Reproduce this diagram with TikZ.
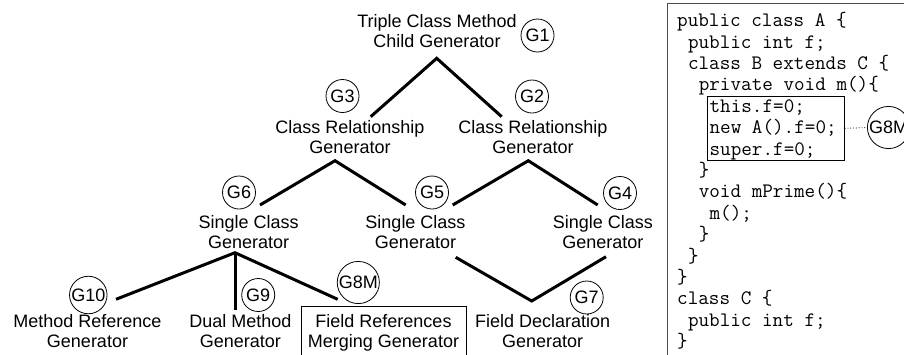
\documentclass[tikz,border=0pt]{standalone}
\usepackage{fontspec}
\setmainfont{Liberation Sans}
\setmonofont{Latin Modern Mono}
\usetikzlibrary{calc}
\newlength{\cw}
\setlength{\cw}{10.8pt}
\newcommand{\ind}[1]{\hspace*{#1\cw}}
\begin{document}
\begin{tikzpicture}[x=1pt,y=-1pt,
  lbl/.style={align=center, inner sep=0pt, anchor=base, font=\fontsize{18}{20}\selectfont},
  gc/.style={circle, draw, line width=0.8pt, inner sep=0.5pt, minimum size=33pt, font=\fontsize{18}{20}\selectfont},
  edge/.style={line width=3pt},
  code/.style={align=left, inner sep=0pt, anchor=base west, font=\fontsize{20.57}{21.4}\selectfont\ttfamily}]
\useasboundingbox (0,0) rectangle (904,354);
\clip (0,0) rectangle (904,354);

% tree labels (anchor = baseline of last line)
\node[lbl] (l1) at (437,47) {Triple Class Method\\Child Generator};
\node[lbl] (l3) at (350,153) {Class Relationship\\Generator};
\node[lbl] (l2) at (533,153) {Class Relationship\\Generator};
\node[lbl] (l6) at (248.7,248.3) {Single Class\\Generator};
\node[lbl] (l5) at (415.5,248.3) {Single Class\\Generator};
\node[lbl] (l4) at (602.8,248.3) {Single Class\\Generator};
\node[lbl] (l10) at (87.5,347) {Method Reference\\Generator};
\node[lbl] (l9) at (240.3,347) {Dual Method\\Generator};
\node[lbl] (l7) at (542.7,347) {Field Declaration\\Generator};
\node[draw, line width=0.8pt, align=center, anchor=north, inner xsep=0pt, inner ysep=7.9pt,
      minimum width=165pt, font=\fontsize{18}{20}\selectfont] (l8) at (383.5,306)
      {Field References\\Merging Generator};

% circles
\node[gc] (g1) at (537.5,35.5) {G1};
\node[gc] (g3) at (342.5,96) {G3};
\node[gc] (g2) at (532,96.5) {G2};
\node[gc] (g6) at (239,192.5) {G6};
\node[gc] (g5) at (432,192.5) {G5};
\node[gc] (g4) at (620,193) {G4};
\node[gc] (g10) at (88.3,295) {G10};
\node[gc] (g9) at (258.2,295) {G9};
\node[gc] (g8) at (358.3,282.5) {G8M};
\node[gc] (g7) at (586.7,297.5) {G7};

% connector points
\coordinate (a1) at (436.7,58.3);
\coordinate (e13) at (370.7,116.7);
\coordinate (e12) at (501.7,116.7);
\coordinate (a3) at (335,160.7);
\coordinate (e36) at (260,205);
\coordinate (e35) at (405.7,205);
\coordinate (a2) at (528.3,160.7);
\coordinate (e25) at (452.7,205);
\coordinate (e24) at (597.7,205);
\coordinate (a6) at (235,252.7);
\coordinate (e610) at (116,299.3);
\coordinate (e69) at (235,310);
\coordinate (e68) at (337.7,299.3);
\coordinate (e57) at (455.7,257.3);
\coordinate (a7) at (531.7,301);
\coordinate (e47) at (606,256.7);

\draw[edge] (e13) -- (a1) -- (e12);
\draw[edge] (e36) -- (a3) -- (e35);
\draw[edge] (e25) -- (a2) -- (e24);
\draw[edge] (e610) -- (a6) -- (e68);
\draw[edge] (a6) -- (e69);
\draw[edge] (e57) -- (a7) -- (e47);

% code panel
\coordinate (cbl) at (667.5,360);
\coordinate (ctl) at (667.5,3.5);
\coordinate (ctr) at (910,3.5);
\draw[line width=1pt, black!70] (cbl) -- (ctl) -- (ctr);

\node[code] (code) at (677,347.7) {%
public class A \{\\
\ind{1}public int f;\\
\ind{1}class B extends C \{\\
\ind{2}private void m()\{\\
\ind{3}this.f=0;\\
\ind{3}new A().f=0;\\
\ind{3}super.f=0;\\
\ind{2}\}\\
\ind{2}void mPrime()\{\\
\ind{3}m();\\
\ind{2}\}\\
\ind{1}\}\\
\}\\
class C \{\\
\ind{1}public int f;\\
\}};

\node[draw, line width=0.9pt, minimum width=136.6pt, minimum height=63.3pt, inner sep=0pt] (fbox) at (776,128.35) {};
\node[gc, minimum size=37pt] (gcode) at (888.5,127.5) {G8M};
\draw[dotted, line width=0.8pt] (fbox.east) -- (gcode.west);
\end{tikzpicture}
\end{document}
